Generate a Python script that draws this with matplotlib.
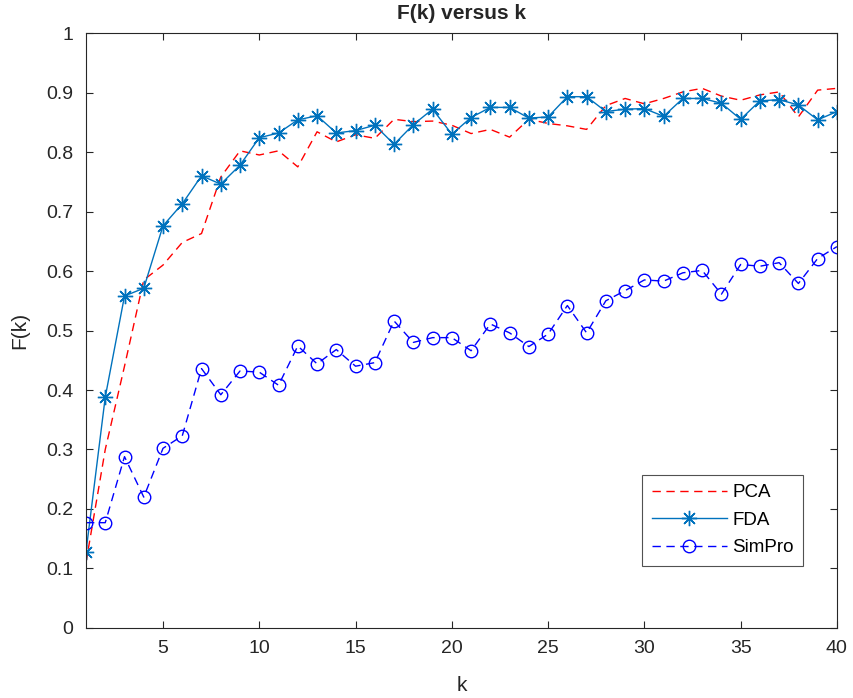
import matplotlib
matplotlib.use("Agg")
import matplotlib.pyplot as plt
import numpy as np

# values, k = 1..40
k = np.arange(1, 41)

pca = [0.110, 0.300, 0.440, 0.585, 0.610, 0.648, 0.663, 0.758, 0.802, 0.795,
       0.802, 0.775, 0.834, 0.817, 0.829, 0.823, 0.855, 0.851, 0.852, 0.845,
       0.831, 0.838, 0.825, 0.855, 0.848, 0.844, 0.838, 0.878, 0.890, 0.881,
       0.890, 0.901, 0.907, 0.894, 0.887, 0.896, 0.901, 0.859, 0.904, 0.907]

fda = [0.128, 0.388, 0.558, 0.571, 0.676, 0.713, 0.760, 0.746, 0.778, 0.824,
       0.832, 0.854, 0.861, 0.832, 0.836, 0.845, 0.813, 0.846, 0.872, 0.830,
       0.858, 0.875, 0.875, 0.857, 0.859, 0.893, 0.893, 0.868, 0.872, 0.873,
       0.860, 0.890, 0.890, 0.882, 0.855, 0.886, 0.888, 0.879, 0.854, 0.868]

simpro = [0.177, 0.177, 0.288, 0.220, 0.302, 0.323, 0.436, 0.392, 0.432, 0.430,
          0.408, 0.474, 0.444, 0.468, 0.440, 0.446, 0.516, 0.480, 0.488, 0.488,
          0.466, 0.511, 0.496, 0.473, 0.494, 0.542, 0.496, 0.550, 0.567, 0.585,
          0.583, 0.597, 0.601, 0.561, 0.611, 0.608, 0.614, 0.579, 0.621, 0.641]

xticks = [5, 10, 15, 20, 25, 30, 35, 40]
yticks = np.arange(0, 1.01, 0.1)
ytick_labels = ["0", "0.1", "0.2", "0.3", "0.4", "0.5", "0.6", "0.7", "0.8", "0.9", "1"]

plt.rcParams["font.family"] = ["Liberation Sans", "DejaVu Sans"]
dark = "#262626"

fig = plt.figure(figsize=(8.54, 6.98), dpi=100)
ax = fig.add_axes([0.1007, 0.1003, 0.8793, 0.8524])

# 8-armed asterisk like MATLAB's '*'
asterisk = (8, 2, 0)

ax.plot(k, pca, color="#ff0000", linestyle=(0, (6, 4)), linewidth=1.0, label="PCA")
ax.plot(k, fda, color="#0072bd", linestyle="-", linewidth=1.0, marker=asterisk,
        markersize=11, markeredgewidth=1.0, label="FDA")
ax.plot(k, simpro, color="#0000ff", linestyle=(0, (6, 4)), linewidth=1.0, marker="o",
        markersize=9, markerfacecolor="none", markeredgewidth=1.0, label="SimPro")

ax.set_xlim(1, 40)
ax.set_ylim(0, 1)
ax.set_xticks(xticks)
ax.set_yticks(yticks)
ax.set_yticklabels(ytick_labels)
ax.tick_params(direction="in", length=5, width=0.8, colors=dark, labelsize=14,
               top=True, right=True, pad=9)
for s in ax.spines.values():
    s.set_color(dark)
    s.set_linewidth(0.8)

ax.set_xlabel("k", fontsize=15, color=dark, labelpad=13)
ax.set_ylabel("F(k)", fontsize=15, color=dark, labelpad=12)
ax.set_title("F(k) versus k", fontsize=15, fontweight="bold", color=dark, pad=10)

leg = ax.legend(loc="lower right", bbox_to_anchor=(0.955, 0.105), fontsize=13.5,
                frameon=True, fancybox=False, handlelength=4.0, borderpad=0.5,
                labelspacing=0.55, handletextpad=0.3, borderaxespad=0.0)
leg.get_frame().set_edgecolor(dark)
leg.get_frame().set_linewidth(0.8)

fig.savefig("out.png", dpi=100)
